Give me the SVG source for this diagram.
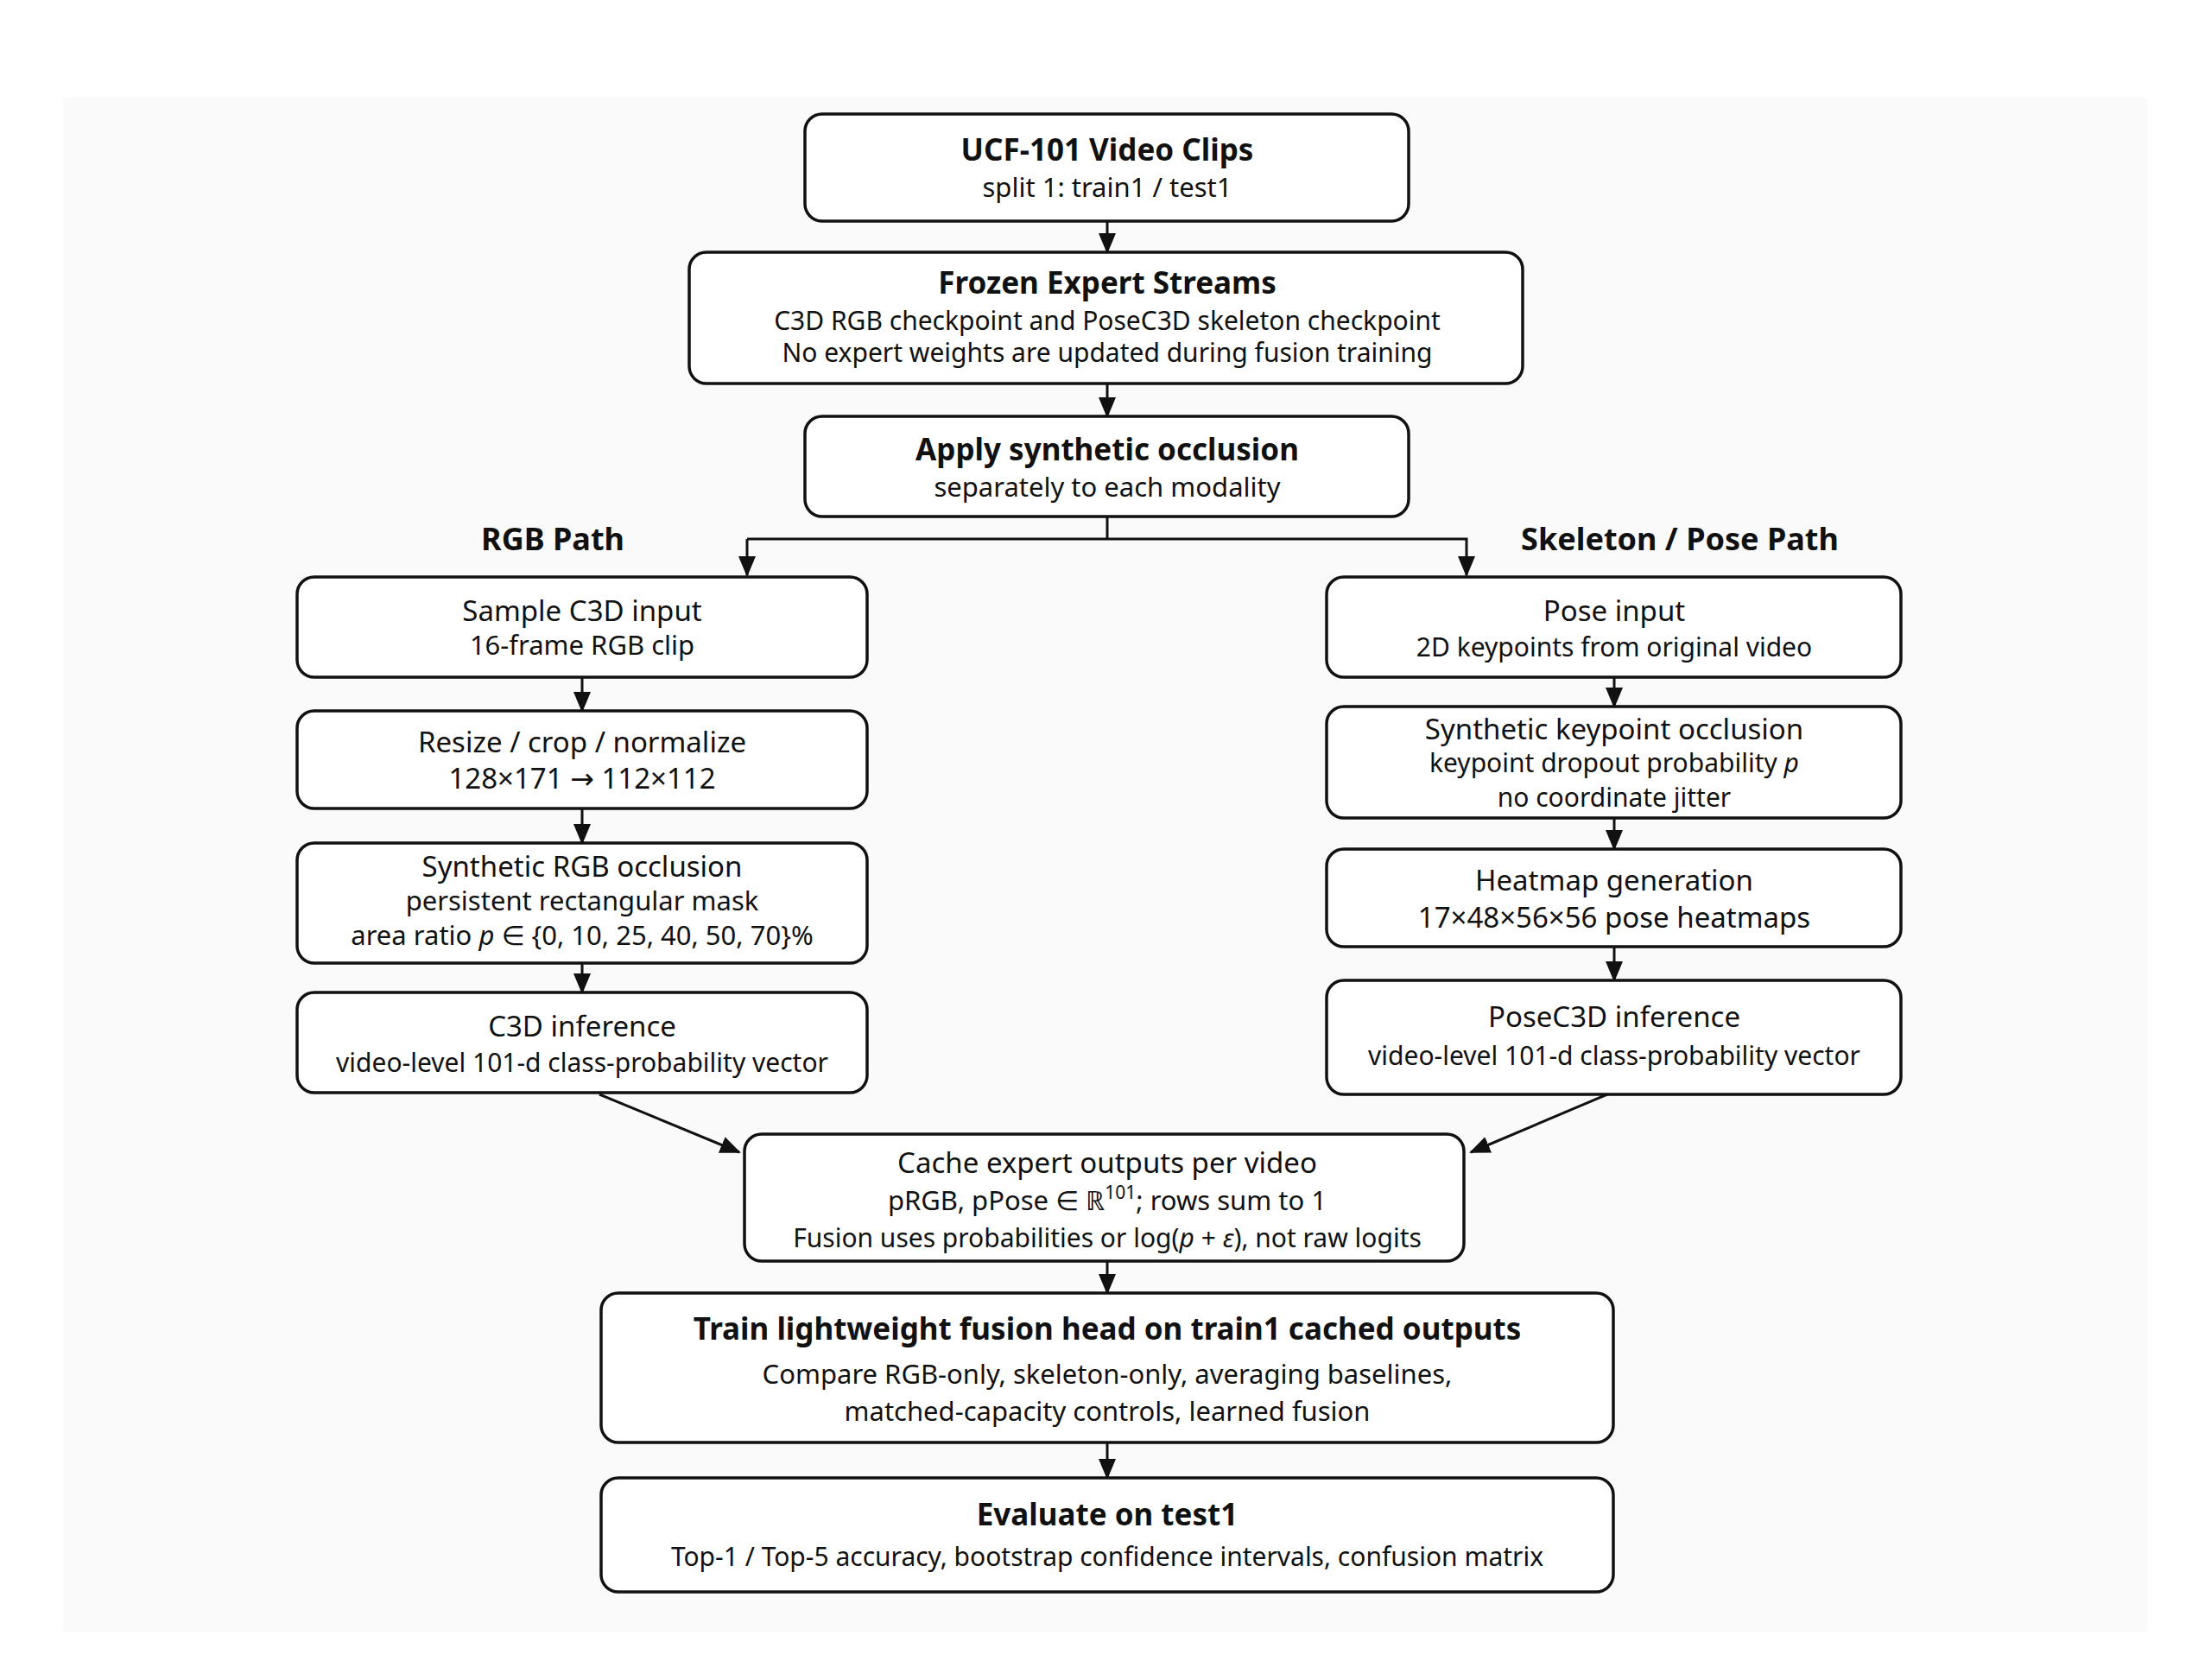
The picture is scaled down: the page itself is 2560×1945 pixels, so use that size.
<svg xmlns="http://www.w3.org/2000/svg" width="2560" height="1945" viewBox="0 0 2560 1945">
<defs>
<marker id="ah" markerUnits="userSpaceOnUse" markerWidth="24" markerHeight="20" viewBox="0 0 24 20" refX="22" refY="10" orient="auto">
<path d="M0,0 L24,10 L0,20 Z" fill="#111"/>
</marker>
<style>
.box{fill:#fff;stroke:#111;stroke-width:3.5}
.edge{fill:none;stroke:#111;stroke-width:3}
text{font-family:"Noto Sans","Open Sans","DejaVu Sans",sans-serif;fill:#111;text-anchor:middle}
.tb{font-weight:bold;font-size:35px}
.t{font-size:33px}
.s{font-size:31px}
.sd{font-size:33px}
.ss{font-size:30px}
.lbl{font-weight:bold;font-size:36px}
</style>
</defs>
<rect x="0" y="0" width="2560" height="1945" fill="#fff"/>
<rect x="73" y="113" width="2413" height="1777" fill="#fafafa"/>

<g id="connectors">
<line class="edge" x1="1282" y1="256" x2="1282" y2="292" marker-end="url(#ah)"/>
<line class="edge" x1="1282" y1="444" x2="1282" y2="482" marker-end="url(#ah)"/>
<polyline class="edge" points="1282,598 1282,624"/>
<polyline class="edge" points="865,624 1698,624 1698,666" marker-end="url(#ah)"/>
<polyline class="edge" points="865,624 865,666" marker-end="url(#ah)"/>
<line class="edge" x1="674" y1="784" x2="674" y2="823" marker-end="url(#ah)"/>
<line class="edge" x1="674" y1="936" x2="674" y2="976" marker-end="url(#ah)"/>
<line class="edge" x1="674" y1="1115" x2="674" y2="1149" marker-end="url(#ah)"/>
<line class="edge" x1="1869" y1="784" x2="1869" y2="818" marker-end="url(#ah)"/>
<line class="edge" x1="1869" y1="947" x2="1869" y2="983" marker-end="url(#ah)"/>
<line class="edge" x1="1869" y1="1096" x2="1869" y2="1135" marker-end="url(#ah)"/>
<line class="edge" x1="694" y1="1267" x2="856" y2="1334" marker-end="url(#ah)"/>
<line class="edge" x1="1861" y1="1267" x2="1703" y2="1334" marker-end="url(#ah)"/>
<line class="edge" x1="1282" y1="1460" x2="1282" y2="1497" marker-end="url(#ah)"/>
<line class="edge" x1="1282" y1="1670" x2="1282" y2="1711" marker-end="url(#ah)"/>
</g>

<g id="lbl-rgb"><text class="lbl" x="640" y="637">RGB Path</text></g>
<g id="lbl-pose"><text class="lbl" x="1945" y="637">Skeleton / Pose Path</text></g>

<g id="n-ucf">
<rect class="box" x="932" y="132" width="699" height="124" rx="20"/>
<text class="tb" x="1282" y="186" font-size="37">UCF-101 Video Clips</text>
<text class="s" x="1282" y="228" font-size="36">split 1: train1 / test1</text>
</g>

<g id="n-frozen">
<rect class="box" x="798" y="292" width="965" height="152" rx="20"/>
<text class="tb" x="1282" y="340" font-size="36">Frozen Expert Streams</text>
<text class="ss" x="1282" y="382" font-size="29">C3D RGB checkpoint and PoseC3D skeleton checkpoint</text>
<text class="ss" x="1282" y="419" font-size="29">No expert weights are updated during fusion training</text>
</g>

<g id="n-apply">
<rect class="box" x="932" y="482" width="699" height="116" rx="20"/>
<text class="tb" x="1282" y="533" font-size="34.5">Apply synthetic occlusion</text>
<text class="s" x="1282" y="575" font-size="33">separately to each modality</text>
</g>

<g id="n-sample">
<rect class="box" x="344" y="668" width="660" height="116" rx="20"/>
<text class="t" x="674" y="719">Sample C3D input</text>
<text class="s" x="674" y="758" font-size="32">16-frame RGB clip</text>
</g>

<g id="n-resize">
<rect class="box" x="344" y="823" width="660" height="113" rx="20"/>
<text class="t" x="674" y="871">Resize / crop / normalize</text>
<text class="sd" x="674" y="913">128×171 → 112×112</text>
</g>

<g id="n-rgbocc">
<rect class="box" x="344" y="976" width="660" height="139" rx="20"/>
<text class="t" x="674" y="1015">Synthetic RGB occlusion</text>
<text class="s" x="674" y="1054">persistent rectangular mask</text>
<text class="s" x="674" y="1094" font-size="32">area ratio <tspan font-style="italic">p</tspan> ∈ {0, 10, 25, 40, 50, 70}%</text>
</g>

<g id="n-c3d">
<rect class="box" x="344" y="1149" width="660" height="116" rx="20"/>
<text class="t" x="674" y="1200">C3D inference</text>
<text class="ss" x="674" y="1241">video-level 101-d class-probability vector</text>
</g>

<g id="n-poseinput">
<rect class="box" x="1536" y="668" width="665" height="116" rx="20"/>
<text class="t" x="1869" y="719">Pose input</text>
<text class="ss" x="1869" y="760">2D keypoints from original video</text>
</g>

<g id="n-kpocc">
<rect class="box" x="1536" y="818" width="665" height="129" rx="20"/>
<text class="t" x="1869" y="856">Synthetic keypoint occlusion</text>
<text class="ss" x="1869" y="894">keypoint dropout probability <tspan font-style="italic">p</tspan></text>
<text class="ss" x="1869" y="934">no coordinate jitter</text>
</g>

<g id="n-heatmap">
<rect class="box" x="1536" y="983" width="665" height="113" rx="20"/>
<text class="t" x="1869" y="1031">Heatmap generation</text>
<text class="sd" x="1869" y="1074">17×48×56×56 pose heatmaps</text>
</g>

<g id="n-posec3d">
<rect class="box" x="1536" y="1135" width="665" height="132" rx="20"/>
<text class="t" x="1869" y="1189">PoseC3D inference</text>
<text class="ss" x="1869" y="1233">video-level 101-d class-probability vector</text>
</g>

<g id="n-cache">
<rect class="box" x="862" y="1313" width="833" height="147" rx="20"/>
<text class="t" x="1282" y="1358" font-size="34">Cache expert outputs per video</text>
<text class="s" x="1282" y="1401" font-size="33">pRGB, pPose ∈ ℝ<tspan font-size="21" dy="-13">101</tspan><tspan dy="13">; rows sum to 1</tspan></text>
<text class="ss" x="1282" y="1444" font-size="30.5">Fusion uses probabilities or log(<tspan font-style="italic">p</tspan> + <tspan font-style="italic">ε</tspan>), not raw logits</text>
</g>

<g id="n-train">
<rect class="box" x="696" y="1497" width="1172" height="173" rx="20"/>
<text class="tb" x="1282" y="1551">Train lightweight fusion head on train1 cached outputs</text>
<text class="s" x="1282" y="1602" font-size="33">Compare RGB-only, skeleton-only, averaging baselines,</text>
<text class="s" x="1282" y="1645" font-size="33">matched-capacity controls, learned fusion</text>
</g>

<g id="n-eval">
<rect class="box" x="696" y="1711" width="1172" height="132" rx="20"/>
<text class="tb" x="1282" y="1766">Evaluate on test1</text>
<text class="ss" x="1282" y="1813" font-size="31">Top-1 / Top-5 accuracy, bootstrap confidence intervals, confusion matrix</text>
</g>
</svg>
